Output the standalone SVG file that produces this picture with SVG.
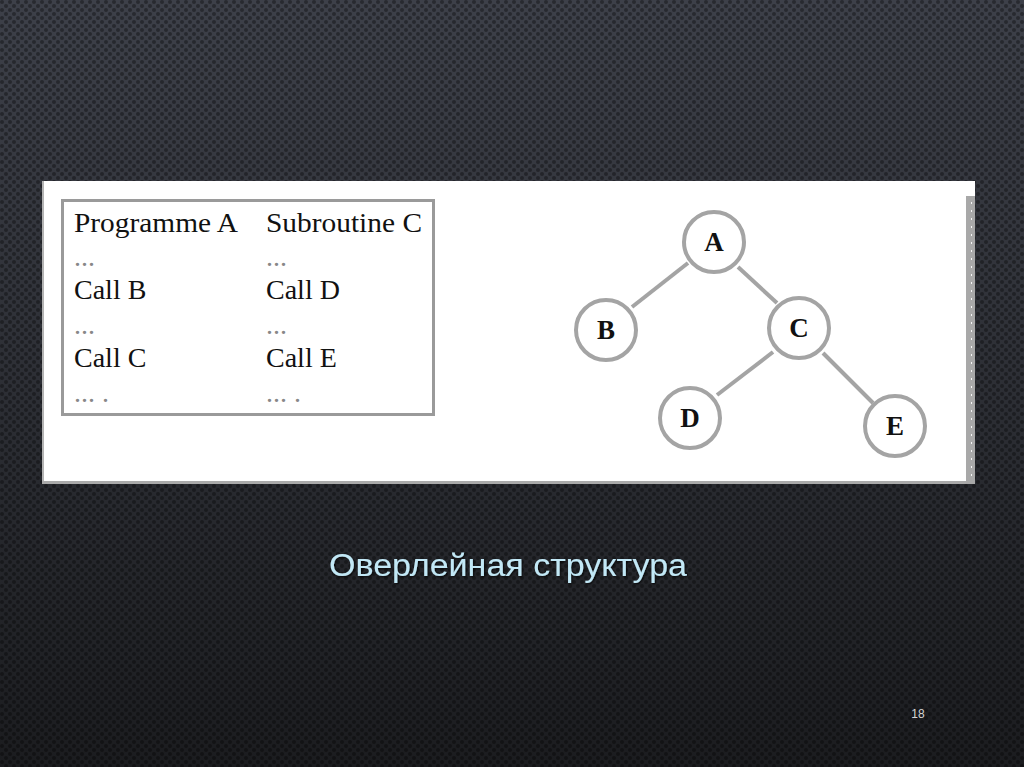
<svg xmlns="http://www.w3.org/2000/svg" width="1024" height="767" viewBox="0 0 1024 767">
<defs>
<linearGradient id="bg" x1="0" y1="0" x2="0" y2="1">
<stop offset="0" stop-color="#3d4049"/>
<stop offset="0.55" stop-color="#2b2d33"/>
<stop offset="1" stop-color="#1b1c1f"/>
</linearGradient>
<pattern id="dots" width="8" height="8" patternUnits="userSpaceOnUse">
<circle cx="2" cy="2" r="2" fill="#000" fill-opacity="0.35"/>
<circle cx="6" cy="6" r="2" fill="#000" fill-opacity="0.35"/>
</pattern>
<pattern id="sdots" width="10" height="8" patternUnits="userSpaceOnUse">
<rect x="0" y="2" width="2" height="2" fill="#fff"/>
</pattern>
<filter id="sh" x="-5%" y="-20%" width="110%" height="140%">
<feDropShadow dx="1" dy="1" stdDeviation="1" flood-color="#000" flood-opacity="0.8"/>
</filter>
</defs>
<style>
.t{font-family:"Liberation Serif","Times New Roman",serif;font-size:28px;fill:#111}
.d{font-family:"Liberation Serif","Times New Roman",serif;font-size:28px;fill:#888}
.n{fill:#fff;stroke:#a4a4a4;stroke-width:4}
.l{font-family:"Liberation Serif","Times New Roman",serif;font-size:27px;font-weight:bold;fill:#111;text-anchor:middle}
.e{stroke:#a4a4a4;stroke-width:4;fill:none}
</style>
<rect width="1024" height="767" fill="url(#bg)"/>
<rect width="1024" height="767" fill="url(#dots)"/>
<g id="picture">
<rect x="42" y="181" width="933" height="303" fill="#fff"/>
<rect x="42" y="181" width="2" height="303" fill="#b4b4b4"/>
<rect x="42" y="481" width="933" height="3" fill="#aaaaaa"/>
<rect x="966" y="196" width="9" height="288" fill="#a8a8a8"/>
<rect x="971" y="196" width="4" height="285" fill="url(#sdots)" opacity="0.9"/>
</g>
<g id="code">
<rect x="62.500" y="200.500" width="371" height="214" fill="#fff" stroke="#9a9a9a" stroke-width="3"/>
<text class="t" x="74" y="232" textLength="164" lengthAdjust="spacingAndGlyphs">Programme A</text>
<text class="d" x="74" y="266">...</text>
<text class="t" x="74" y="299">Call B</text>
<text class="d" x="74" y="334">...</text>
<text class="t" x="74" y="367">Call C</text>
<text class="d" x="74" y="402">... .</text>
<text class="t" x="266" y="232" textLength="156" lengthAdjust="spacingAndGlyphs">Subroutine C</text>
<text class="d" x="266" y="266">...</text>
<text class="t" x="266" y="299">Call D</text>
<text class="d" x="266" y="334">...</text>
<text class="t" x="266" y="367">Call E</text>
<text class="d" x="266" y="402">... .</text>
</g>
<g id="connectors">
<line class="e" x1="688" y1="263" x2="632" y2="307"/>
<line class="e" x1="738" y1="267" x2="777" y2="303"/>
<line class="e" x1="773" y1="352" x2="717" y2="395"/>
<line class="e" x1="823" y1="353" x2="873" y2="403"/>
</g>
<g id="node-A"><circle class="n" cx="714" cy="242" r="30"/><text class="l" x="714" y="251">A</text></g>
<g id="node-B"><circle class="n" cx="606" cy="330" r="30"/><text class="l" x="606" y="339">B</text></g>
<g id="node-C"><circle class="n" cx="799" cy="328" r="30"/><text class="l" x="799" y="337">C</text></g>
<g id="node-D"><circle class="n" cx="690" cy="418" r="30"/><text class="l" x="690" y="427">D</text></g>
<g id="node-E"><circle class="n" cx="895" cy="426" r="30"/><text class="l" x="895" y="435">E</text></g>
<text x="329" y="576" textLength="358" lengthAdjust="spacingAndGlyphs" font-family="'Liberation Sans',Arial,sans-serif" font-size="31" fill="#c2e8f6" filter="url(#sh)">Оверлейная структура</text>
<text x="918" y="718" text-anchor="middle" font-family="'Liberation Sans',Arial,sans-serif" font-size="12" fill="#d4d4d4">18</text>
</svg>
